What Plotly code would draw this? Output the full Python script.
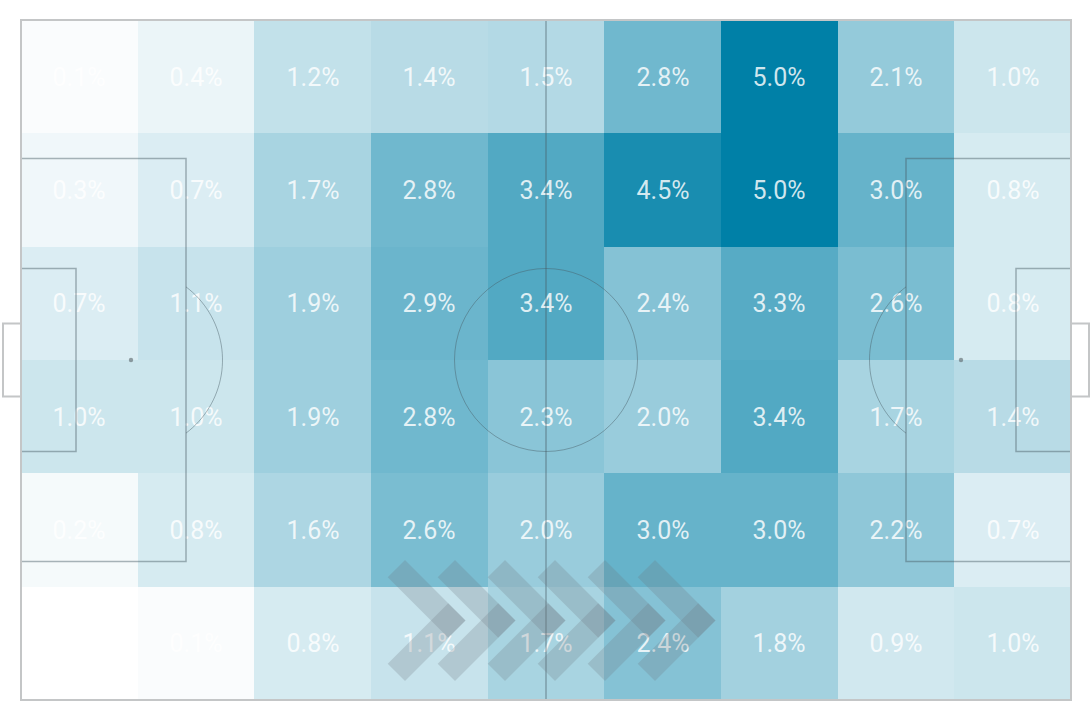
import numpy as np
import plotly.graph_objects as go

# ---- data: share of actions per pitch zone (rows top -> bottom, columns left -> right)
values = [
    [0.1, 0.4, 1.2, 1.4, 1.5, 2.8, 5.0, 2.1, 1.0],
    [0.3, 0.7, 1.7, 2.8, 3.4, 4.5, 5.0, 3.0, 0.8],
    [0.7, 1.1, 1.9, 2.9, 3.4, 2.4, 3.3, 2.6, 0.8],
    [1.0, 1.0, 1.9, 2.8, 2.3, 2.0, 3.4, 1.7, 1.4],
    [0.2, 0.8, 1.6, 2.6, 2.0, 3.0, 3.0, 2.2, 0.7],
    [0.0, 0.1, 0.8, 1.1, 1.7, 2.4, 1.8, 0.9, 1.0],
]
n_cols = 9
n_rows = 6

# ---- pitch geometry (metres)
L, W = 105.0, 68.0
x_edges = np.linspace(0, L, n_cols + 1)
y_edges = np.linspace(0, W, n_rows + 1)
z = values[::-1]  # bottom row first for ascending y

fig = go.Figure()
fig.add_trace(go.Heatmap(
    x=x_edges, y=y_edges, z=z,
    zmin=0, zmax=5.0,
    colorscale=[[0, "rgb(255,255,255)"], [1, "rgb(0,128,167)"]],
    showscale=False,
    texttemplate="%{z:.1f}%",
    textfont=dict(family="Roboto, Arial, sans-serif",
                  size=25, color="rgba(255,255,255,0.82)"),
    hoverinfo="skip",
))

shapes = []
line_col = "rgba(70,90,100,0.45)"
edge_col = "#c4c6c7"

def rect(x0, y0, x1, y1, color, width):
    shapes.append(dict(type="rect", xref="x", yref="y", x0=x0, y0=y0, x1=x1, y1=y1,
                       line=dict(color=color, width=width), fillcolor="rgba(0,0,0,0)",
                       layer="above"))

def path(pts, color, width, closed=False, fill="rgba(0,0,0,0)"):
    d = "M " + " L ".join(f"{px:.3f},{py:.3f}" for px, py in pts)
    if closed:
        d += " Z"
    shapes.append(dict(type="path", xref="x", yref="y", path=d,
                       line=dict(color=color, width=width), fillcolor=fill, layer="above"))

# halfway line and centre circle
path([(L / 2, 0), (L / 2, W)], line_col, 1.5)
shapes.append(dict(type="circle", xref="x", yref="y", x0=L / 2 - 9.15, x1=L / 2 + 9.15,
                   y0=W / 2 - 9.15, y1=W / 2 + 9.15, line=dict(color=line_col, width=1),
                   layer="above"))

# penalty and goal areas
pa_w, pa_h = 16.5, 40.32
ga_w, ga_h = 5.5, 18.32
rect(0, W / 2 - pa_h / 2, pa_w, W / 2 + pa_h / 2, line_col, 1.5)
rect(L - pa_w, W / 2 - pa_h / 2, L, W / 2 + pa_h / 2, line_col, 1.5)
rect(0, W / 2 - ga_h / 2, ga_w, W / 2 + ga_h / 2, line_col, 1.5)
rect(L - ga_w, W / 2 - ga_h / 2, L, W / 2 + ga_h / 2, line_col, 1.5)

# penalty spots
for sx in (11.0, L - 11.0):
    shapes.append(dict(type="circle", xref="x", yref="y", x0=sx - 0.22, x1=sx + 0.22,
                       y0=W / 2 - 0.22, y1=W / 2 + 0.22, fillcolor="rgba(90,100,105,0.6)",
                       line=dict(width=0), layer="above"))

# penalty arcs
th = np.arccos(5.5 / 9.15)
ang = np.linspace(-th, th, 40)
path([(11 + 9.15 * np.cos(a), W / 2 + 9.15 * np.sin(a)) for a in ang], line_col, 1)
path([(L - 11 - 9.15 * np.cos(a), W / 2 + 9.15 * np.sin(a)) for a in ang], line_col, 1)

# outer boundary and goals
rect(0, 0, L, W, edge_col, 2)
rect(-1.8, W / 2 - 3.66, 0, W / 2 + 3.66, edge_col, 2)
rect(L, W / 2 - 3.66, L + 1.8, W / 2 + 3.66, edge_col, 2)

# direction-of-play chevrons
chev_col = "rgba(110,118,126,0.24)"
c_y = 7.95
s = 6.05
t = 1.73
for k in range(6):
    xt = 44.45 + 5.0 * k
    top = [(xt - s, c_y + s), (xt, c_y), (xt - t, c_y - t), (xt - s - t, c_y + s - t)]
    bot = [(xt - s, c_y - s), (xt, c_y), (xt - t, c_y + t), (xt - s - t, c_y - s + t)]
    path(top, "rgba(0,0,0,0)", 0, closed=True, fill=chev_col)
    path(bot, "rgba(0,0,0,0)", 0, closed=True, fill=chev_col)

fig.update_layout(
    width=1090, height=720,
    margin=dict(l=0, r=0, t=0, b=0),
    paper_bgcolor="white", plot_bgcolor="white",
    xaxis=dict(range=[-2.1, 106.9], visible=False, fixedrange=True),
    yaxis=dict(range=[-2.0, 70.0], visible=False, fixedrange=True),
    shapes=shapes,
    showlegend=False,
)
fig.write_html("out.html", config={"displayModeBar": False},
               post_script="document.body.style.margin='0px';")
